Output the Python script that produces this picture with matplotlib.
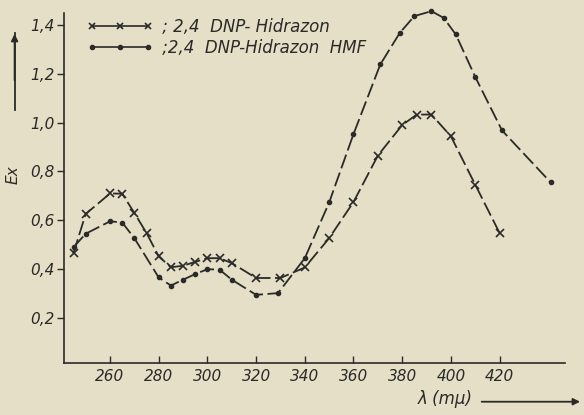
import matplotlib.pyplot as plt
from matplotlib.lines import Line2D

# ---------------------------------------------------
# DATA
# ---------------------------------------------------

# 2,4 DNP-Hidrazon (x markers)
dnp_wl = [245, 250, 260, 265, 270, 275, 280, 285, 290, 295, 300, 305, 310,
          320, 330, 340, 350, 360, 370, 380, 386, 392, 400, 410, 420]
dnp_ex = [0.466, 0.626, 0.71, 0.709, 0.63, 0.548, 0.452, 0.408, 0.414, 0.43,
          0.445, 0.445, 0.425, 0.364, 0.364, 0.407, 0.527, 0.675, 0.865, 0.99,
          1.033, 1.033, 0.944, 0.746, 0.548]

# 2,4 DNP-Hidrazon HMF (dots)
hmf_wl = [245, 250, 260, 265, 270, 280, 285, 290, 295, 300, 305, 310, 320,
          329, 340, 350, 360, 371, 379, 385, 392, 397, 402, 410, 421, 441]
hmf_ex = [0.49, 0.545, 0.596, 0.591, 0.527, 0.366, 0.333, 0.357, 0.38, 0.40,
          0.398, 0.357, 0.295, 0.302, 0.445, 0.673, 0.953, 1.238, 1.367, 1.436,
          1.456, 1.429, 1.361, 1.187, 0.968, 0.755]

x_ticks = [260, 280, 300, 320, 340, 360, 380, 400, 420]
y_ticks = [0.2, 0.4, 0.6, 0.8, 1.0, 1.2, 1.4]

labels = [" ; 2,4  DNP- Hidrazon", " ;2,4  DNP-Hidrazon  HMF"]

# ---------------------------------------------------
# STYLE
# ---------------------------------------------------

PAPER = "#e4dfc6"
INK = "#2a2a28"

plt.rcParams["font.family"] = ["Liberation Sans Narrow", "DejaVu Sans"]
plt.rcParams["font.style"] = "italic"

fig = plt.figure(figsize=(5.84, 4.15), dpi=100, facecolor=PAPER)
ax = fig.add_axes([0.1096, 0.1253, 0.858, 0.843], facecolor=PAPER)

ax.plot(dnp_wl, dnp_ex, color=INK, lw=1.3, ls=(0, (8, 2.5)),
        marker="x", ms=6, mew=1.2, clip_on=False)
ax.plot(hmf_wl, hmf_ex, color=INK, lw=1.3, ls=(0, (8, 2.5)),
        marker="o", ms=3, clip_on=False)

ax.set_xlim(241.1, 446.9)
ax.set_ylim(0.016, 1.448)

ax.set_xticks(x_ticks)
ax.set_xticklabels([str(v) for v in x_ticks])
ax.set_yticks(y_ticks)
ax.set_yticklabels([f"{v:.1f}".replace(".", ",") for v in y_ticks])

ax.tick_params(axis="x", direction="in", length=5, width=1, colors=INK,
               labelsize=11, pad=4)
ax.tick_params(axis="y", direction="out", length=5, width=1, colors=INK,
               labelsize=11, pad=2)

for side in ["top", "right"]:
    ax.spines[side].set_visible(False)
for side in ["left", "bottom"]:
    ax.spines[side].set_color(INK)
    ax.spines[side].set_linewidth(1.2)

# axis captions with arrows, as on the original
fig.text(0.022, 0.578, "Ex", rotation=90, color=INK, fontsize=11,
         ha="center", va="center")
fig.add_artist(plt.Line2D([0.025, 0.025], [0.735, 0.92], color=INK, lw=1.3))
ax.annotate("", xy=(0.025, 0.925), xytext=(0.025, 0.80),
            xycoords="figure fraction",
            arrowprops=dict(arrowstyle="-|>", color=INK, lw=1.3,
                            mutation_scale=10))

fig.text(0.762, 0.018, "λ (mμ)", color=INK, fontsize=12,
         ha="center", va="bottom")
ax.annotate("", xy=(0.998, 0.032), xytext=(0.82, 0.032),
            xycoords="figure fraction",
            arrowprops=dict(arrowstyle="-|>", color=INK, lw=1.3,
                            mutation_scale=10))

# legend
handles = [
    Line2D([], [], color=INK, lw=1.2, marker="x", ms=5, mew=1.2),
    Line2D([], [], color=INK, lw=1.2, marker="o", ms=3),
]
ax.legend(handles, labels, loc="upper left", bbox_to_anchor=(0.015, 1.03),
          frameon=False, numpoints=3, handlelength=4.0, handletextpad=0.2,
          labelspacing=0.2, fontsize=12, labelcolor=INK)

fig.savefig("out.png", dpi=100, facecolor=PAPER)
